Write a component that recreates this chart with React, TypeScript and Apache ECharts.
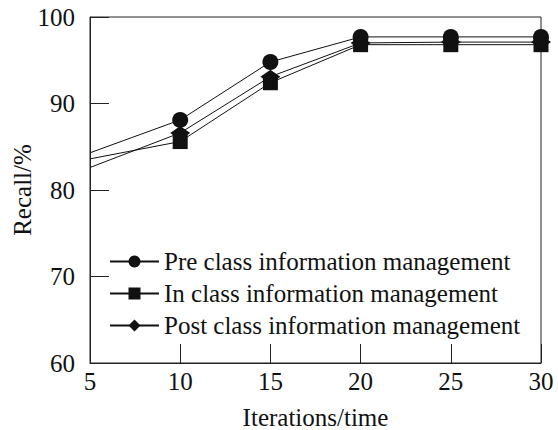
import React, { useEffect, useRef } from "react";
import * as echarts from "echarts";

const iterations = [5, 10, 15, 20, 25, 30];
const preClass = [84.3, 88.1, 94.8, 97.7, 97.7, 97.7];
const inClass = [83.6, 85.6, 92.4, 96.8, 96.8, 96.8];
const postClass = [82.6, 86.6, 93.1, 97.0, 97.1, 97.1];
const seriesNames = [
  "Pre class information management",
  "In class information management",
  "Post class information management",
];

const FONT = "Liberation Serif";

export default function App() {
  const ref = useRef<HTMLDivElement>(null);
  useEffect(() => {
    if (!ref.current) return;
    const chart = echarts.init(ref.current, undefined, { renderer: "svg" });
    const mk = (name: string, vals: number[], symbol: string, size: any) => ({
      name,
      type: "line",
      data: iterations.map((x, i) =>
        i === 0 ? { value: [x, vals[i]], symbol: "none" } : { value: [x, vals[i]] }
      ),
      symbol,
      symbolSize: size,
      lineStyle: { color: "#111", width: 1 },
      itemStyle: { color: "#111" },
      z: 3,
    });
    chart.setOption({
      animation: false,
      backgroundColor: "#fff",
      grid: {
        left: 90,
        right: 17,
        top: 17,
        bottom: 67,
        containLabel: false,
        outerBoundsMode: "none",
        show: true,
        borderColor: "#222",
        borderWidth: 1,
      },
      legend: {
        orient: "vertical",
        left: 104,
        top: 244,
        itemWidth: 49,
        itemHeight: 15,
        itemGap: 7,
        textStyle: { fontFamily: FONT, fontSize: 25, color: "#111" },
        data: seriesNames,
      },
      xAxis: {
        type: "value",
        min: 5,
        max: 30,
        interval: 5,
        name: "Iterations/time",
        nameLocation: "middle",
        nameGap: 42,
        nameMoveOverlap: false,
        nameTextStyle: { fontFamily: FONT, fontSize: 25, color: "#111" },
        axisLine: { lineStyle: { color: "#222" } },
        axisTick: { inside: true, length: 19, lineStyle: { color: "#222" } },
        axisLabel: { fontFamily: FONT, fontSize: 25, color: "#111", margin: 6 },
        splitLine: { show: false },
      },
      yAxis: {
        type: "value",
        min: 60,
        max: 100,
        interval: 10,
        name: "Recall/%",
        nameLocation: "middle",
        nameGap: 55,
        nameMoveOverlap: false,
        nameTextStyle: { fontFamily: FONT, fontSize: 25, color: "#111" },
        axisLine: { show: true, lineStyle: { color: "#222" } },
        axisTick: { show: true, inside: true, length: 19, lineStyle: { color: "#222" } },
        axisLabel: { fontFamily: FONT, fontSize: 25, color: "#111", margin: 15 },
        splitLine: { show: false },
      },
      series: [
        mk(seriesNames[0], preClass, "circle", 16),
        mk(seriesNames[1], inClass, "rect", 15),
        mk(seriesNames[2], postClass, "diamond", [20, 14]),
      ],
    });
    return () => chart.dispose();
  }, []);
  return <div ref={ref} style={{ width: 558, height: 430, position: "absolute", left: 0, top: 0 }} />;
}
